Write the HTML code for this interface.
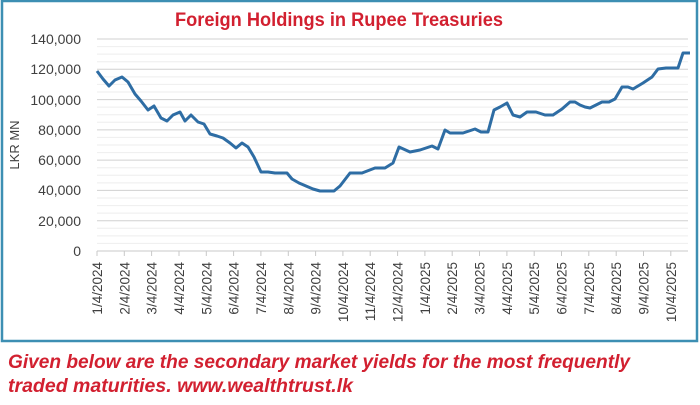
<!DOCTYPE html>
<html><head><style>
body{margin:0;background:#fff;width:700px;height:400px;overflow:hidden}
</style></head><body>
<svg width="700" height="400" xmlns="http://www.w3.org/2000/svg" font-family="Liberation Sans, sans-serif">
<rect x="2" y="1" width="695" height="340" fill="#fff" stroke="#3d8fb3" stroke-width="2.5"/>
<text x="339" y="26" text-anchor="middle" font-size="19" font-weight="bold" fill="#d22030" textLength="328" lengthAdjust="spacingAndGlyphs">Foreign Holdings in Rupee Treasuries</text>
<g stroke="#eeeeee" stroke-width="1">
<line x1="97" x2="688" y1="243.4" y2="243.4"/><line x1="97" x2="688" y1="235.9" y2="235.9"/><line x1="97" x2="688" y1="228.3" y2="228.3"/>
<line x1="97" x2="688" y1="213.1" y2="213.1"/><line x1="97" x2="688" y1="205.6" y2="205.6"/><line x1="97" x2="688" y1="198" y2="198"/>
<line x1="97" x2="688" y1="182.9" y2="182.9"/><line x1="97" x2="688" y1="175.3" y2="175.3"/><line x1="97" x2="688" y1="167.7" y2="167.7"/>
<line x1="97" x2="688" y1="152.6" y2="152.6"/><line x1="97" x2="688" y1="145" y2="145"/><line x1="97" x2="688" y1="137.4" y2="137.4"/>
<line x1="97" x2="688" y1="122.3" y2="122.3"/><line x1="97" x2="688" y1="114.7" y2="114.7"/><line x1="97" x2="688" y1="107.1" y2="107.1"/>
<line x1="97" x2="688" y1="92" y2="92"/><line x1="97" x2="688" y1="84.4" y2="84.4"/><line x1="97" x2="688" y1="76.9" y2="76.9"/>
<line x1="97" x2="688" y1="61.7" y2="61.7"/><line x1="97" x2="688" y1="54.1" y2="54.1"/><line x1="97" x2="688" y1="46.6" y2="46.6"/>
</g>
<g stroke="#d0d0d0" stroke-width="1">
<line x1="97" x2="688" y1="220.7" y2="220.7"/><line x1="97" x2="688" y1="190.4" y2="190.4"/><line x1="97" x2="688" y1="160.1" y2="160.1"/>
<line x1="97" x2="688" y1="129.9" y2="129.9"/><line x1="97" x2="688" y1="99.6" y2="99.6"/><line x1="97" x2="688" y1="69.3" y2="69.3"/><line x1="97" x2="688" y1="39" y2="39"/>
</g>
<line x1="97" x2="688" y1="251" y2="251" stroke="#c8c8c8"/>
<g stroke="#c8c8c8"><line x1="97" x2="97" y1="251" y2="256"/><line x1="124.3" x2="124.3" y1="251" y2="256"/><line x1="151.6" x2="151.6" y1="251" y2="256"/><line x1="179" x2="179" y1="251" y2="256"/><line x1="206.3" x2="206.3" y1="251" y2="256"/><line x1="233.6" x2="233.6" y1="251" y2="256"/><line x1="260.9" x2="260.9" y1="251" y2="256"/><line x1="288.3" x2="288.3" y1="251" y2="256"/><line x1="315.6" x2="315.6" y1="251" y2="256"/><line x1="342.9" x2="342.9" y1="251" y2="256"/><line x1="370.2" x2="370.2" y1="251" y2="256"/><line x1="397.6" x2="397.6" y1="251" y2="256"/><line x1="424.9" x2="424.9" y1="251" y2="256"/><line x1="452.2" x2="452.2" y1="251" y2="256"/><line x1="479.5" x2="479.5" y1="251" y2="256"/><line x1="506.9" x2="506.9" y1="251" y2="256"/><line x1="534.2" x2="534.2" y1="251" y2="256"/><line x1="561.5" x2="561.5" y1="251" y2="256"/><line x1="588.8" x2="588.8" y1="251" y2="256"/><line x1="616.2" x2="616.2" y1="251" y2="256"/><line x1="643.5" x2="643.5" y1="251" y2="256"/><line x1="670.8" x2="670.8" y1="251" y2="256"/></g>
<g font-size="14" fill="#404040" text-anchor="end">
<text x="81" y="44">140,000</text><text x="81" y="74">120,000</text><text x="81" y="105">100,000</text><text x="81" y="135">80,000</text><text x="81" y="165">60,000</text><text x="81" y="195">40,000</text><text x="81" y="226">20,000</text><text x="81" y="256">0</text>
</g>
<text transform="translate(19,145) rotate(-90)" text-anchor="middle" font-size="13" fill="#404040">LKR MN</text>
<g font-size="13.5" fill="#404040" text-anchor="end">
<text transform="translate(102,262) rotate(-90)">1/4/2024</text>
<text transform="translate(129.3,262) rotate(-90)">2/4/2024</text>
<text transform="translate(156.6,262) rotate(-90)">3/4/2024</text>
<text transform="translate(184,262) rotate(-90)">4/4/2024</text>
<text transform="translate(211.3,262) rotate(-90)">5/4/2024</text>
<text transform="translate(238.6,262) rotate(-90)">6/4/2024</text>
<text transform="translate(265.9,262) rotate(-90)">7/4/2024</text>
<text transform="translate(293.3,262) rotate(-90)">8/4/2024</text>
<text transform="translate(320.6,262) rotate(-90)">9/4/2024</text>
<text transform="translate(347.9,262) rotate(-90)">10/4/2024</text>
<text transform="translate(375.2,262) rotate(-90)">11/4/2024</text>
<text transform="translate(402.6,262) rotate(-90)">12/4/2024</text>
<text transform="translate(429.9,262) rotate(-90)">1/4/2025</text>
<text transform="translate(457.2,262) rotate(-90)">2/4/2025</text>
<text transform="translate(484.5,262) rotate(-90)">3/4/2025</text>
<text transform="translate(511.9,262) rotate(-90)">4/4/2025</text>
<text transform="translate(539.2,262) rotate(-90)">5/4/2025</text>
<text transform="translate(566.5,262) rotate(-90)">6/4/2025</text>
<text transform="translate(593.8,262) rotate(-90)">7/4/2025</text>
<text transform="translate(621.2,262) rotate(-90)">8/4/2025</text>
<text transform="translate(648.5,262) rotate(-90)">9/4/2025</text>
<text transform="translate(675.8,262) rotate(-90)">10/4/2025</text>
</g>
<polyline fill="none" stroke="#2e6da4" stroke-width="3" stroke-linejoin="round" points="97,71 103,79 109,86 115,80 122,77 128,82 135,94 141,101 148,110 154,106 161,118 167,121 173,115 180,112 185,121 191,115 198,122 204,124 210,134 217,136 223,138 230,143 236,148 242,143 248,147 254,157 261,172 268,172 275,173 282,173 287,173 292,179 299,183 306,186 313,189 320,191 327,191 334,191 340,186 350,173 362,173 375,168 385,168 393,163 399,147 410,152 420,150 432,146 438,149 445,130 450,133 463,133 475,129 481,132 488,132 494,110 500,107 507,103 513,115 520,117 527,112 536,112 545,115 553,115 562,109 570,102 575,102 580,105 585,107 590,108 596,105 602,102 609,102 615,99 622,87 628,87 633,89 638,86 643,83 652,77 658,69 666,68 678,68 683,53 690,53"/>
<g font-size="19" font-weight="bold" font-style="italic" fill="#d22030">
<text x="8" y="368" textLength="622" lengthAdjust="spacingAndGlyphs">Given below are the secondary market yields for the most frequently</text>
<text x="8" y="392" textLength="345" lengthAdjust="spacingAndGlyphs">traded maturities. www.wealthtrust.lk</text>
</g>
</svg>
</body></html>
